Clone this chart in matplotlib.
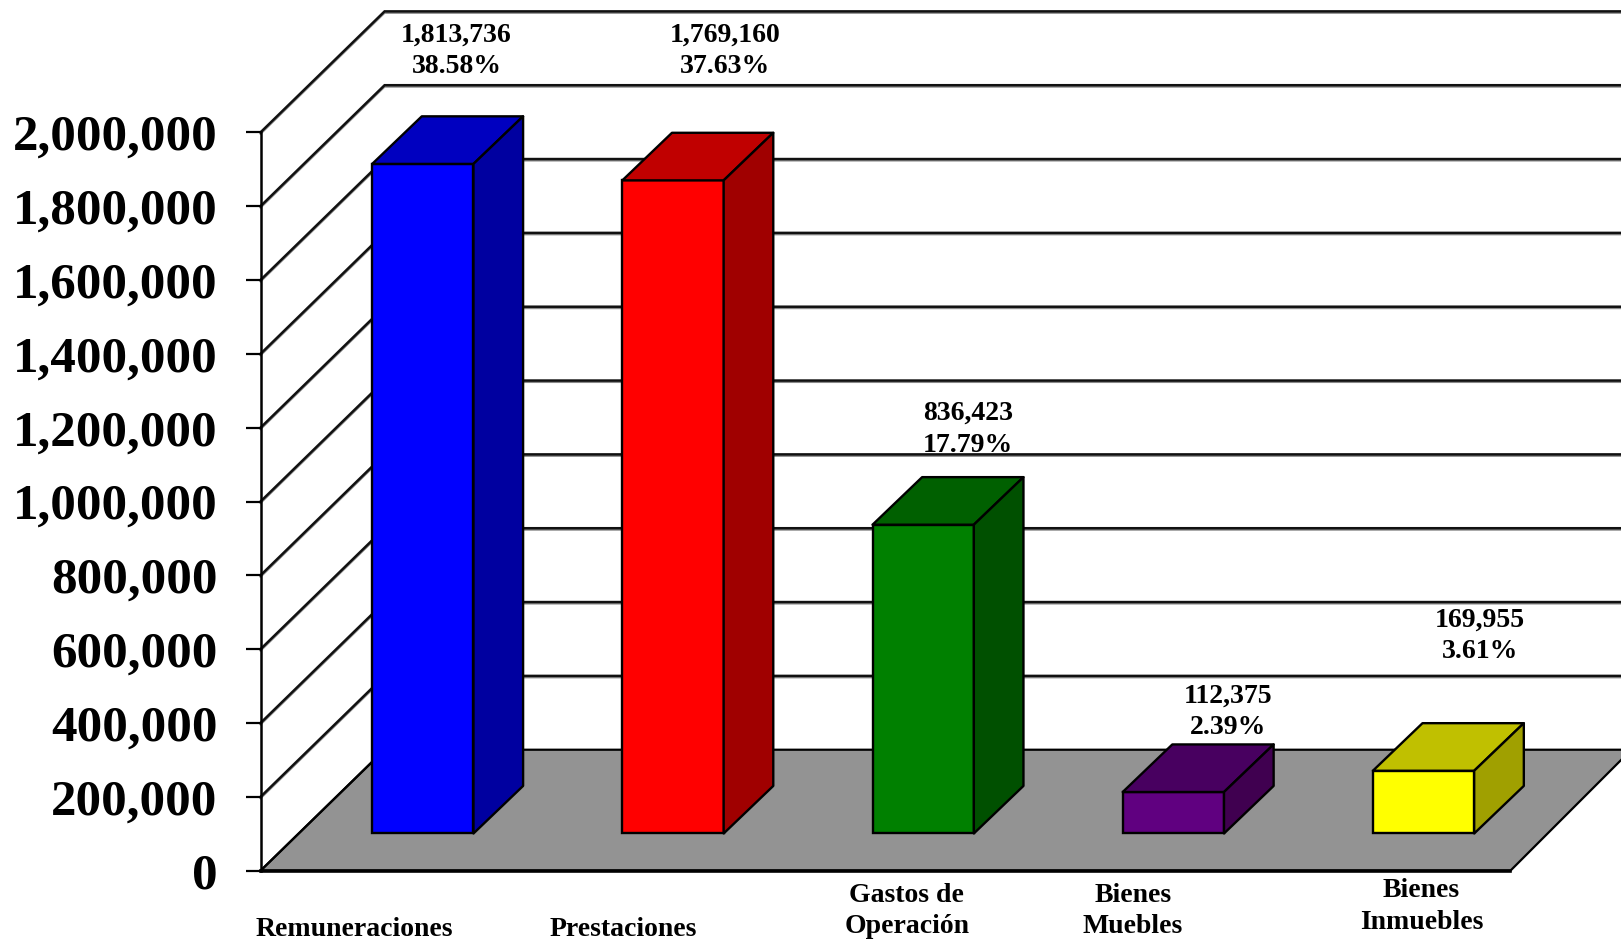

# 3D style bar chart, drawn by hand on a plain axes

import matplotlib
matplotlib.use('Agg')
import matplotlib.pyplot as plt
import numpy as np

# Data
categories = ['Remuneraciones', 'Prestaciones', 'Gastos de\nOperación', 'Bienes\nMuebles', 'Bienes\nInmuebles']
values = [1813736, 1769160, 836423, 112375, 169955]
value_labels = ['1,813,736\n38.58%', '1,769,160\n37.63%', '836,423\n17.79%', '112,375\n2.39%', '169,955\n3.61%']
y_ticks = [0, 200000, 400000, 600000, 800000, 1000000, 1200000, 1400000, 1600000, 1800000, 2000000]

front_colors = ['#0000FF', '#FF0000', '#008000', '#600080', '#FFFF00']
top_colors = ['#0000C0', '#C00000', '#006000', '#480060', '#C0C000']
side_colors = ['#0000A0', '#A00000', '#005000', '#400050', '#A0A000']

plt.rcParams['font.family'] = ['Liberation Serif', 'DejaVu Serif']
plt.rcParams['font.weight'] = 'bold'

W, H = 1568.0, 909.0  # layout measured on this grid

fig = plt.figure(figsize=(16.21, 9.40), dpi=100)
ax = fig.add_axes([252 / W, (H - 842) / H, (1461 - 252) / W, (842 - 128) / H])

bar_step = 242.0
ax.set_xlim((252 - 409) / bar_step, (1461 - 409) / bar_step)
ax.set_ylim(0, 2000000)
ax.patch.set_visible(False)

unit = 2000000 / 714.0  # value per layout pixel
def dx(p):
    return p / bar_step
def dy(p):
    return p * unit

x0, x1 = ax.get_xlim()
wall_dx, wall_dy = dx(120), dy(117)
edge = x0 + dx(1568 - 252)

# walls: diagonals and back lines, with the grey shadow under them
for t in y_ticks[1:]:
    ax.plot([x0, x0 + wall_dx, edge], [t - dy(1.4), t + wall_dy - dy(1.4), t + wall_dy - dy(1.4)],
            color='#8a8a8a', lw=1.5, clip_on=False, zorder=0.9, solid_joinstyle='miter')
    ax.plot([x0, x0 + wall_dx, edge], [t, t + wall_dy, t + wall_dy], color='#111111', lw=1.8,
            clip_on=False, zorder=1, solid_joinstyle='miter')

# floor
ax.fill([x0, x0 + wall_dx, edge + dx(10), x1], [0, wall_dy, wall_dy, 0], facecolor='#939393',
        edgecolor='black', lw=1.6, clip_on=False, zorder=2)
ax.plot([x0, x0 + wall_dx], [0, wall_dy], color='black', lw=1.6, clip_on=False, zorder=2)

# bars
bar_w = dx(98)
depth_x, depth_y = dx(48), dy(46)
base = dy(36)
for i, v in enumerate(values):
    left = i - bar_w / 2
    right = i + bar_w / 2
    top = base + v
    ax.fill([left, right, right, left], [base, base, top, top], facecolor=front_colors[i],
            edgecolor='black', lw=1.7, clip_on=False, zorder=3)
    ax.fill([left, right, right + depth_x, left + depth_x], [top, top, top + depth_y, top + depth_y],
            facecolor=top_colors[i], edgecolor='black', lw=1.7, clip_on=False, zorder=3,
            joinstyle='round')
    ax.fill([right, right + depth_x, right + depth_x, right], [base, base + depth_y, top + depth_y, top],
            facecolor=side_colors[i], edgecolor='black', lw=1.7, clip_on=False, zorder=3,
            joinstyle='round')

# value labels, placed by hand
label_x = [441.5, 701.5, 936, 1187.5, 1431.5]
label_y = [49, 49, 415, 688.5, 615]
for i, txt in enumerate(value_labels):
    ax.text(x0 + dx(label_x[i] - 252), (842 - label_y[i]) * unit, txt, ha='center', va='center',
            fontsize=20, fontweight='bold', linespacing=1.36, zorder=5, color='black')

# category labels, placed by hand
cat_x = [343, 603, 877, 1096, 1375]
cat_y = [899, 899, 881, 881, 877]
for i, txt in enumerate(categories):
    ax.text(x0 + dx(cat_x[i] - 252), (842 - cat_y[i]) * unit, txt, ha='center', va='center',
            fontsize=20, fontweight='bold', linespacing=1.36, clip_on=False, color='black')

ax.set_xticks([])
ax.set_yticks(y_ticks)
ax.set_yticklabels([f'{t:,}' for t in y_ticks], fontsize=36.7, fontweight='bold')
ax.tick_params(axis='y', length=11, width=1.6, pad=20, color='black')

for s in ['top', 'right']:
    ax.spines[s].set_visible(False)
ax.spines['left'].set_linewidth(1.8)
ax.spines['bottom'].set_linewidth(2.6)
ax.spines['left'].set_zorder(4)
ax.spines['bottom'].set_zorder(4)

plt.savefig('out.png', dpi=100)
